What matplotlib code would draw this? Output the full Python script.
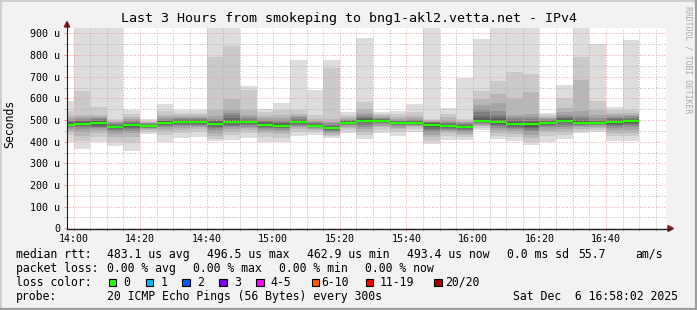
import numpy as np
import matplotlib
matplotlib.use("Agg")
import matplotlib.pyplot as plt
from matplotlib.patches import Rectangle, Polygon

# bins are 5 minute steps, minutes relative to 14:00
bin_minutes = list(range(-5, 170, 5))

# 20 sorted ping times (us) per bin
pings = [
    [400, 430, 445, 455, 462, 467, 471, 474, 476, 477, 479, 482, 486, 490, 495, 502, 510, 520, 540, 587],
    [366, 405, 428, 445, 458, 466, 472, 476, 479, 481, 483, 486, 490, 494, 498, 503, 512, 525, 634, 1100],
    [400, 420, 440, 455, 462, 466, 470, 475, 480, 486, 490, 493, 496, 499, 503, 508, 515, 525, 558, 1100],
    [380, 400, 420, 435, 446, 453, 458, 462, 465, 466, 468, 471, 474, 478, 482, 486, 490, 496, 506, 1100],
    [358, 395, 420, 438, 450, 458, 464, 468, 472, 474, 476, 479, 483, 487, 492, 498, 505, 515, 528, 545],
    [435, 445, 452, 458, 462, 465, 467, 469, 470, 471, 473, 475, 477, 479, 481, 484, 487, 491, 497, 506],
    [400, 430, 448, 460, 467, 472, 476, 480, 483, 486, 488, 491, 494, 497, 500, 505, 512, 522, 540, 575],
    [415, 440, 455, 465, 472, 477, 481, 485, 488, 491, 493, 495, 498, 501, 505, 510, 516, 524, 533, 545],
    [423, 445, 458, 467, 474, 479, 483, 486, 489, 491, 493, 495, 498, 501, 505, 510, 516, 523, 532, 545],
    [404, 412, 425, 440, 455, 463, 470, 475, 479, 481, 483, 486, 490, 494, 499, 506, 520, 545, 790, 1100],
    [410, 430, 445, 458, 467, 474, 479, 484, 488, 490, 492, 496, 502, 510, 522, 533, 545, 598, 844, 1100],
    [415, 438, 452, 463, 470, 476, 480, 484, 487, 489, 491, 494, 497, 501, 506, 513, 525, 545, 637, 655],
    [397, 420, 438, 450, 459, 465, 469, 473, 476, 477, 479, 482, 486, 490, 495, 502, 510, 520, 535, 552],
    [397, 418, 435, 447, 455, 461, 465, 468, 470, 471, 473, 476, 480, 485, 491, 498, 508, 522, 545, 578],
    [427, 445, 458, 467, 474, 479, 483, 486, 489, 490, 492, 495, 498, 502, 507, 513, 520, 530, 545, 777],
    [430, 443, 452, 459, 464, 467, 469, 470, 471, 472, 473, 475, 477, 480, 484, 489, 496, 506, 525, 637],
    [415, 425, 433, 440, 446, 451, 455, 458, 461, 462, 464, 467, 470, 474, 479, 485, 493, 505, 740, 777],
    [441, 455, 464, 470, 475, 479, 482, 484, 486, 487, 488, 490, 492, 495, 498, 502, 507, 514, 523, 535],
    [412, 432, 447, 460, 470, 478, 484, 489, 493, 496, 497, 500, 504, 509, 515, 523, 533, 550, 583, 880],
    [441, 456, 466, 474, 480, 485, 489, 492, 494, 495, 497, 499, 501, 504, 507, 511, 516, 522, 530, 538],
    [427, 445, 457, 465, 471, 476, 480, 483, 485, 486, 487, 489, 491, 494, 497, 501, 507, 515, 527, 542],
    [446, 458, 466, 472, 476, 479, 482, 484, 486, 487, 488, 490, 492, 495, 498, 502, 508, 517, 535, 572],
    [388, 405, 420, 433, 444, 453, 460, 466, 471, 476, 478, 481, 484, 487, 490, 493, 496, 500, 506, 1100],
    [407, 425, 438, 448, 455, 460, 464, 467, 469, 470, 472, 475, 478, 482, 487, 493, 501, 512, 530, 555],
    [407, 420, 432, 442, 450, 456, 460, 463, 465, 466, 468, 470, 473, 476, 480, 485, 490, 497, 506, 694],
    [454, 465, 472, 478, 483, 487, 490, 492, 494, 495, 497, 502, 510, 520, 535, 550, 568, 598, 634, 875],
    [411, 428, 442, 455, 465, 472, 478, 483, 487, 490, 492, 497, 503, 512, 525, 540, 580, 621, 678, 1100],
    [403, 420, 436, 449, 458, 465, 470, 475, 479, 481, 483, 487, 492, 498, 505, 513, 523, 601, 724, 1100],
    [384, 400, 418, 433, 446, 456, 464, 470, 475, 480, 482, 486, 491, 497, 505, 515, 530, 629, 714, 1100],
    [400, 425, 443, 456, 466, 473, 478, 482, 485, 486, 488, 490, 493, 496, 500, 504, 509, 515, 523, 533],
    [412, 432, 447, 460, 470, 478, 484, 489, 493, 496, 497, 500, 504, 509, 515, 523, 535, 555, 601, 660],
    [438, 450, 460, 467, 473, 478, 481, 484, 486, 487, 488, 491, 495, 500, 508, 520, 540, 684, 792, 1100],
    [443, 455, 464, 470, 475, 479, 482, 484, 486, 487, 488, 490, 493, 497, 502, 510, 522, 545, 589, 850],
    [403, 425, 442, 455, 465, 472, 478, 483, 487, 490, 492, 495, 499, 503, 508, 514, 522, 532, 545, 561],
    [404, 425, 442, 456, 467, 475, 481, 486, 490, 493, 495, 498, 502, 506, 511, 517, 524, 533, 546, 869],
]

median = [478, 482, 488, 467, 475, 472, 487, 492, 492, 482, 491, 490, 478, 472, 491, 472,
          463, 487, 496.5, 496, 486, 487, 477, 471, 467, 496, 491, 482, 481, 487, 496, 487,
          487, 491, 493.4]

x_ticks = [0, 20, 40, 60, 80, 100, 120, 140, 160]
x_labels = ["14:00", "14:20", "14:40", "15:00", "15:20", "15:40", "16:00", "16:20", "16:40"]
y_ticks = [0, 100, 200, 300, 400, 500, 600, 700, 800, 900]
y_labels = ["0", "100 u", "200 u", "300 u", "400 u", "500 u", "600 u", "700 u", "800 u", "900 u"]

title = "Last 3 Hours from smokeping to bng1-akl2.vetta.net - IPv4"
legend_rows = [
    [("median rtt:", 16), ("483.1 us avg", 107.3), ("496.5 us max", 207.3), ("462.9 us min", 306.7),
     ("493.4 us now", 406.7), ("0.0 ms sd", 506.7), ("55.7", 578.3), ("am/s", 635)],
    [("packet loss:", 16), ("0.00 % avg", 107.3), ("0.00 % max", 193.3), ("0.00 % min", 279.3),
     ("0.00 % now", 365)],
    [("loss color:", 16)],
    [("probe:", 16), ("20 ICMP Echo Pings (56 Bytes) every 300s", 107.3), ("Sat Dec  6 16:58:02 2025", 513.3)],
]
loss_labels = ["0", "1", "2", "3", "4-5", "6-10", "11-19", "20/20"]
loss_colors = ["#26ff00", "#00b8ff", "#0059ff", "#7e00ff", "#ff00ff", "#ff5500", "#ff0000", "#a10000"]
loss_box_x = [108.7, 145.7, 182.3, 219.3, 256.3, 311.7, 365.7, 434.3]
loss_text_x = [123.3, 160.7, 197.3, 234.3, 270.7, 321.7, 380.0, 445.0]

W, H = 697, 310
MONO = "DejaVu Sans Mono"
plt.rcParams["font.family"] = MONO

fig = plt.figure(figsize=(W / 100, H / 100), dpi=100, facecolor="#f2f2f2")
ax = fig.add_axes([67 / W, 1 - 228.3 / H, 599 / W, 200.3 / H])
ax.set_facecolor("white")
ax.set_xlim(-1.97, 178.03)
ax.set_ylim(0, 925)

p = np.array(pings, dtype=float)
starts = np.array(bin_minutes, dtype=float)

# smoke: nested bands, outer light -> inner dark
for b in range(10):
    shade = int(190 / 10 * (10 - (b + 1))) + 50
    col = "#%02x%02x%02x" % (shade, shade, shade)
    lo = p[:, b]
    hi = p[:, 19 - b]
    ax.bar(starts, hi - lo, bottom=lo, width=5, align="edge", color=col,
           linewidth=0, zorder=1 + b * 0.01)

ax.hlines(median, starts, starts + 5, colors=loss_colors[0], lw=1.6, zorder=3)

ax.set_xticks(x_ticks)
ax.set_xticklabels(x_labels)
ax.set_xticks(range(5, 180, 5), minor=True)
ax.set_yticks(y_ticks)
ax.set_yticklabels(y_labels)
ax.set_yticks(range(50, 925, 50), minor=True)

# rrdtool puts the grid over the smoke
ax.set_axisbelow(False)
ax.grid(which="major", color="#efa3a3", lw=0.72, ls=(0, (1, 1.7)))
ax.grid(which="minor", color="#b4b4b4", lw=0.72, ls=(0, (1, 1.7)))
ax.tick_params(which="major", length=2, width=0.7, color="#eb9595", labelsize=7.2,
               labelcolor="black", pad=3)
ax.tick_params(which="minor", length=2, width=0.7, color="#bbbbbb")
ax.tick_params(axis="x", pad=2)
for s in ax.spines.values():
    s.set_visible(False)

# overlay in pixel coordinates for axes arrows, legend, frame
ov = fig.add_axes([0, 0, 1, 1], zorder=5)
ov.set_xlim(0, W)
ov.set_ylim(H, 0)
ov.axis("off")
ov.patch.set_alpha(0)

ov.plot([67, 67], [228.8, 23], color="#1f1f1f", lw=0.8)
ov.plot([66.5, 670], [228.5, 228.5], color="#1f1f1f", lw=1.0)
ov.add_patch(Polygon([(64.3, 27), (69.7, 27), (67, 21.5)], closed=True, color="#801f1f"))
ov.add_patch(Polygon([(668, 225.6), (668, 231.4), (673.5, 228.5)], closed=True, color="#801f1f"))

ov.text(349, 18.5, title, ha="center", va="center", fontsize=9.6, color="black")
ov.text(10, 124, "Seconds", rotation=90, ha="center", va="center", fontsize=8.3)
ov.text(688, 60, "RRDTOOL / TOBI OETIKER", rotation=270, ha="center", va="center",
        fontsize=5.9, color="#aaaaaa")

row_y = [254.3, 268.3, 282.3, 296.3]
for row, yy in zip(legend_rows, row_y):
    for txt, xx in row:
        ov.text(xx, yy, txt, ha="left", va="center", fontsize=8.3, color="black")

for bx, tx, lab, c in zip(loss_box_x, loss_text_x, loss_labels, loss_colors):
    ov.add_patch(Rectangle((bx, row_y[2] - 3.8), 7.4, 7.4, facecolor=c, edgecolor="black", lw=0.8))
    ov.text(tx, row_y[2], lab, ha="left", va="center", fontsize=8.3, color="black")

# 3d frame
ov.plot([0, W], [0.8, 0.8], color="#cfcfcf", lw=1.4)
ov.plot([0.8, 0.8], [0, H], color="#cfcfcf", lw=1.4)
ov.plot([0, W], [H - 1.2, H - 1.2], color="#9e9e9e", lw=1.6)
ov.plot([W - 1.2, W - 1.2], [0, H], color="#9e9e9e", lw=1.6)

fig.savefig("out.png", dpi=100, facecolor=fig.get_facecolor())
